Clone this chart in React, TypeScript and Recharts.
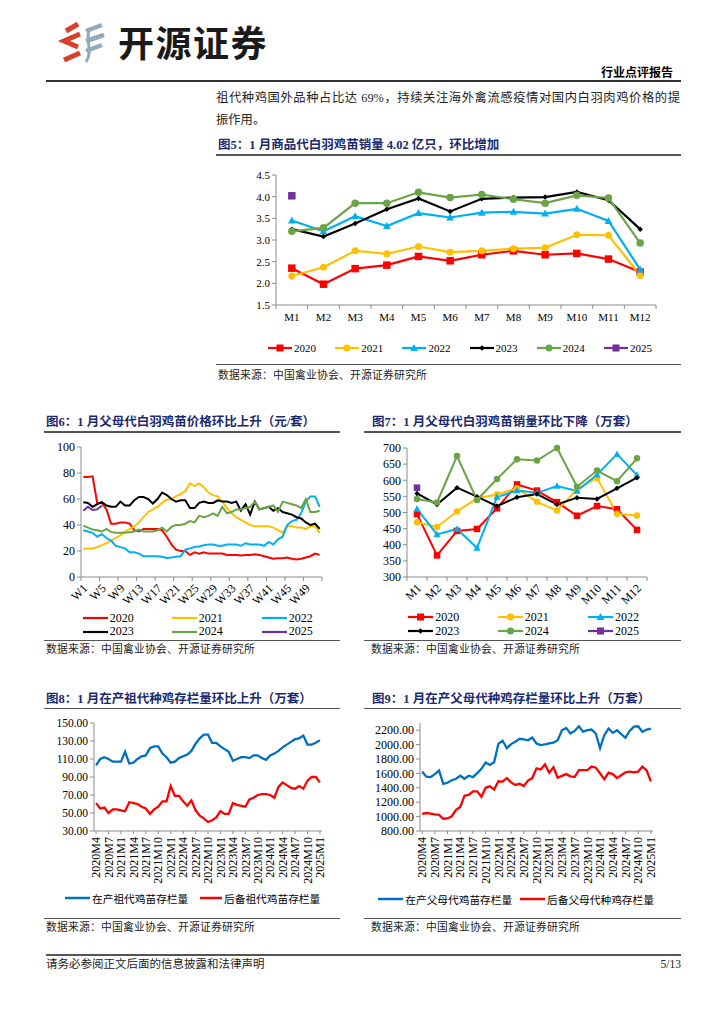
import React from "react";
import { LineChart, Line, XAxis, YAxis } from "recharts";

const SERIF = '"Liberation Serif", "Times New Roman", "Noto Sans CJK SC", serif';
const AXIS = "#8c8c8c";
const NAVY = "#1b2a6e";

// 图5 商品代白羽鸡苗销量（亿只）
const monthCats = ["M1", "M2", "M3", "M4", "M5", "M6", "M7", "M8", "M9", "M10", "M11", "M12"];
const sales2020 = [2.35, 1.98, 2.34, 2.42, 2.62, 2.52, 2.66, 2.75, 2.66, 2.69, 2.56, 2.26];
const sales2021 = [2.17, 2.37, 2.75, 2.68, 2.85, 2.72, 2.75, 2.8, 2.82, 3.12, 3.11, 2.18];
const sales2022 = [3.45, 3.2, 3.55, 3.32, 3.62, 3.52, 3.63, 3.65, 3.61, 3.72, 3.44, 2.32];
const sales2023 = [3.25, 3.08, 3.38, 3.71, 3.96, 3.66, 3.95, 3.98, 3.99, 4.11, 3.92, 3.25];
const sales2024 = [3.2, 3.28, 3.85, 3.85, 4.1, 3.98, 4.05, 3.94, 3.85, 4.03, 3.97, 2.93];
const sales2025 = [4.02];
const salesTicks = [1.5, 2.0, 2.5, 3.0, 3.5, 4.0, 4.5];

// 图6 父母代鸡苗价格（元/套）
const weekCats = [
  "W1", "W2", "W3", "W4", "W5", "W6", "W7", "W8", "W9", "W10", "W11", "W12", "W13",
  "W14", "W15", "W16", "W17", "W18", "W19", "W20", "W21", "W22", "W23", "W24", "W25", "W26",
  "W27", "W28", "W29", "W30", "W31", "W32", "W33", "W34", "W35", "W36", "W37", "W38", "W39",
  "W40", "W41", "W42", "W43", "W44", "W45", "W46", "W47", "W48", "W49", "W50", "W51", "W52",
];
const price2020 = [77, 77, 77.5, 57, 57, 52, 41, 41, 42, 42, 41, 36, 35, 37, 37, 37, 37, 36, 31, 25, 21, 20, 20, 17, 19, 18, 19, 18, 18, 18, 18, 17, 17, 17, 16.5, 17, 17, 17.5, 17, 16, 15, 14, 14.5, 14.5, 15, 14, 13.5, 14, 15, 16, 18, 17];
const price2021 = [21.5, 22, 22, 23, 24.5, 26, 28, 30, 32, 35, 37, 39, 42, 46, 50, 52, 54, 57, 59.5, 60, 62, 64, 66, 72, 70, 72, 69, 65, 63, 62, 58, 53, 49, 46, 44, 42, 40, 39, 39, 39, 39, 38, 36, 34, 39, 39, 38, 38, 37, 39, 39, 34];
const price2022 = [36, 35, 34, 31, 33, 30, 28, 24, 23, 22, 19, 19, 18, 16, 16, 16, 16, 15.5, 14.6, 15, 15.5, 16, 21, 22, 23, 23.5, 24.5, 25, 25, 24, 24, 25, 25, 25, 24, 26, 25, 25, 25, 24, 27, 25, 29, 31, 40, 43, 44, 49, 58, 62, 62, 54];
const price2023 = [57.5, 57, 54, 56, 57.5, 55, 54, 54, 58, 55, 55, 59, 61.5, 61.5, 60, 56.5, 60, 65, 63, 60, 58, 59, 59, 53, 53, 57, 58, 57, 57, 59, 58, 58, 57, 58, 51, 56, 48, 58, 52, 53, 54, 51, 53, 50, 49, 48, 46, 45, 42, 40, 41, 37];
const price2024 = [39.5, 38, 36.5, 36, 35, 37, 34.5, 34, 34, 34, 34.5, 35, 36.5, 35, 35, 35, 36, 38, 35, 38.5, 40, 40, 41, 43, 42, 47, 46, 47, 49, 47, 54, 49, 50, 52, 52, 53, 54, 58, 52, 53, 54, 55, 50, 58, 57, 56, 55, 53, 60, 50, 50, 51];
const price2025 = [51, 54, 51.5, 52, 55];
const priceTicks = [0, 20, 40, 60, 80, 100];

// 图7 父母代鸡苗销量（万套）
const vol2020 = [495, 367, 443, 449, 513, 587, 568, 532, 490, 520, 510, 446];
const vol2021 = [470, 455, 503, 544, 556, 575, 533, 506, 572, 607, 496, 491];
const vol2022 = [511, 432, 449, 390, 548, 568, 561, 582, 567, 617, 681, 616];
const vol2023 = [559, 525, 577, 549, 520, 547, 557, 525, 546, 542, 575, 608];
const vol2024 = [542, 531, 675, 539, 604, 665, 661, 700, 580, 630, 597, 668];
const vol2025 = [577];
const volTicks = [300, 350, 400, 450, 500, 550, 600, 650, 700];

// 图8 / 图9 存栏量（万套）
const stockMonths = [
  "2020M4", "2020M5", "2020M6", "2020M7", "2020M8", "2020M9",
  "2021M1", "2021M2", "2021M3", "2021M4", "2021M5", "2021M6", "2021M7", "2021M8", "2021M9", "2021M10", "2021M11", "2021M12",
  "2022M1", "2022M2", "2022M3", "2022M4", "2022M5", "2022M6", "2022M7", "2022M8", "2022M9", "2022M10", "2022M11", "2022M12",
  "2023M1", "2023M2", "2023M3", "2023M4", "2023M5", "2023M6", "2023M7", "2023M8", "2023M9", "2023M10", "2023M11", "2023M12",
  "2024M1", "2024M2", "2024M3", "2024M4", "2024M5", "2024M6", "2024M7", "2024M8", "2024M9", "2024M10", "2024M11", "2024M12",
  "2025M1",
];
const gpLaying = [103, 110, 112, 110, 107, 107, 107, 118, 105, 106, 110, 113, 114, 122, 124, 124, 116, 112, 106, 107, 111, 113, 115, 119, 127, 133, 137, 137, 128, 128, 124, 121, 118, 108, 110, 112, 112, 111, 114, 114, 111, 109, 114, 116, 119, 123, 126, 129, 132, 133, 136, 126, 126, 128, 131];
const gpReserve = [61, 55, 56, 50, 54, 54, 53, 52, 62, 61, 60, 57, 55, 49, 54, 57, 63, 63, 80, 69, 69, 63, 58, 64, 53, 47, 44, 40, 42, 45, 52, 49, 49, 61, 59, 58, 57, 65, 67, 70, 71, 71, 70, 67, 79, 84, 81, 78, 77, 80, 77, 86, 90, 90, 84];
const gpTicks = [30, 50, 70, 90, 110, 130, 150];
const ppLaying = [1626, 1555, 1548, 1590, 1640, 1456, 1470, 1505, 1525, 1567, 1525, 1567, 1548, 1603, 1663, 1750, 1718, 1755, 2010, 2053, 1950, 2007, 2039, 2081, 2071, 2060, 2099, 2016, 1993, 2003, 2016, 2026, 2062, 2200, 2232, 2154, 2190, 2255, 2180, 2200, 2209, 2154, 1950, 2131, 2223, 2163, 2200, 2145, 2094, 2190, 2250, 2255, 2177, 2209, 2223];
const ppReserve = [1039, 1050, 1040, 1030, 1025, 970, 975, 1005, 1095, 1135, 1290, 1300, 1350, 1350, 1275, 1400, 1420, 1375, 1490, 1485, 1535, 1475, 1440, 1455, 1425, 1500, 1535, 1670, 1655, 1725, 1610, 1685, 1540, 1565, 1590, 1560, 1550, 1645, 1645, 1645, 1695, 1680, 1600, 1520, 1610, 1590, 1535, 1575, 1615, 1625, 1615, 1625, 1695, 1640, 1490];
const ppTicks = [800, 1000, 1200, 1400, 1600, 1800, 2000, 2200];

const yearStyles = [
  { key: "y2020", name: "2020", color: "#ff0000", shape: "square" },
  { key: "y2021", name: "2021", color: "#ffc000", shape: "circle" },
  { key: "y2022", name: "2022", color: "#00b0f0", shape: "triangle" },
  { key: "y2023", name: "2023", color: "#000000", shape: "diamond" },
  { key: "y2024", name: "2024", color: "#6aa446", shape: "circle" },
  { key: "y2025", name: "2025", color: "#7030a0", shape: "square" },
];

function makeRows(cats: string[], series: Record<string, number[]>) {
  return cats.map((c, i) => {
    const r: any = { c };
    for (const k in series) r[k] = series[k][i] ?? null;
    return r;
  });
}

function Marker(p: any) {
  const { cx, cy, shape, color, size, value } = p;
  if (value == null || cx == null || cy == null) return <g />;
  const h = size / 2;
  if (shape === "square") return <rect x={cx - h} y={cy - h} width={size} height={size} fill={color} />;
  if (shape === "circle") return <circle cx={cx} cy={cy} r={h} fill={color} />;
  if (shape === "triangle")
    return <polygon points={`${cx},${cy - h * 1.15} ${cx + h * 1.1},${cy + h * 0.85} ${cx - h * 1.1},${cy + h * 0.85}`} fill={color} />;
  return <polygon points={`${cx},${cy - h} ${cx + h},${cy} ${cx},${cy + h} ${cx - h},${cy}`} fill={color} />;
}

// category tick: boundary tick marks, label flat / diagonal / vertical
function CatTick(p: any) {
  const { x, y, payload, bw, mode, step, cats, fs } = p;
  const idx = cats.indexOf(payload.value);
  const marks: any[] = [];
  if (mode !== "vert") {
    marks.push(<line key="a" x1={x - bw / 2} x2={x - bw / 2} y1={y} y2={y + 4} stroke={AXIS} />);
    if (idx + step >= cats.length) {
      const xe = x - bw / 2 + (cats.length - idx) * bw;
      marks.push(<line key="b" x1={xe} x2={xe} y1={y} y2={y + 4} stroke={AXIS} />);
    }
  }
  let label;
  if (mode === "flat") {
    label = (
      <text x={x} y={y + 16} textAnchor="middle" fontSize={fs} fontFamily={SERIF} fill="#000">
        {payload.value}
      </text>
    );
  } else if (mode === "diag") {
    label = (
      <text transform={`translate(${x + 2},${y + 9}) rotate(-45)`} textAnchor="end" dy="0.35em" fontSize={fs} fontFamily={SERIF} fill="#000">
        {payload.value}
      </text>
    );
  } else {
    label = (
      <text transform={`translate(${x},${y + 2}) rotate(-90)`} textAnchor="end" dy="0.35em" fontSize={fs} fontFamily={SERIF} fill="#000">
        {payload.value}
      </text>
    );
  }
  return (
    <g>
      {marks}
      {label}
    </g>
  );
}

function Txt({ x, y, size, children, style }: any) {
  return (
    <div
      style={{
        position: "absolute",
        left: x,
        top: y - size / 2,
        fontSize: size,
        lineHeight: `${size}px`,
        whiteSpace: "nowrap",
        fontFamily: SERIF,
        ...style,
      }}
    >
      {children}
    </div>
  );
}

function Rule({ x1, x2, y, w = 1, color = "#555" }: any) {
  return <div style={{ position: "absolute", left: x1, top: y - w / 2, width: x2 - x1, height: w, background: color }} />;
}

function LegendItem({ x, y, color, shape, label, lineW = 25, size = 7, fs = 11, stroke = 2.2 }: any) {
  return (
    <div style={{ position: "absolute", left: x, top: y - 7, height: 14, display: "flex", alignItems: "center", whiteSpace: "nowrap" }}>
      <svg width={lineW} height={14} style={{ display: "block" }}>
        <line x1={0} x2={lineW} y1={7} y2={7} stroke={color} strokeWidth={stroke} />
        {shape ? <Marker cx={lineW / 2} cy={7} value={1} shape={shape} color={color} size={size} /> : null}
      </svg>
      <span style={{ fontSize: fs, fontFamily: SERIF, marginLeft: 2, color: "#000" }}>{label}</span>
    </div>
  );
}

const yTick = (fs: number) => ({ fontSize: fs, fill: "#000", fontFamily: SERIF });

function Fig5() {
  const rows = makeRows(monthCats, { y2020: sales2020, y2021: sales2021, y2022: sales2022, y2023: sales2023, y2024: sales2024, y2025: sales2025 });
  const sizes: Record<string, number> = { y2020: 7.5, y2021: 7, y2022: 7, y2023: 5.5, y2024: 7.5, y2025: 7.5 };
  return (
    <div style={{ position: "absolute", left: 216, top: 165 }}>
      <LineChart width={460} height={172} data={rows} margin={{ top: 10, right: 20, bottom: 0, left: 0 }}>
        <XAxis dataKey="c" scale="band" interval={0} height={32} tickLine={false} tickSize={0} tickMargin={0} axisLine={{ stroke: AXIS }}
          tick={<CatTick bw={380 / 12} mode="flat" step={1} cats={monthCats} fs={11} />} />
        <YAxis type="number" domain={[1.5, 4.5]} ticks={salesTicks} interval={0} tickFormatter={(v: number) => v.toFixed(1)} width={60}
          axisLine={{ stroke: AXIS }} tickLine={{ stroke: AXIS }} tickSize={4} tick={yTick(11)} />
        {yearStyles.map((s) => (
          <Line key={s.key} dataKey={s.key} stroke={s.color} strokeWidth={2.2} isAnimationActive={false} activeDot={false}
            dot={(d: any) => <Marker key={`${s.key}-${d.index}`} {...d} shape={s.shape} color={s.color} size={sizes[s.key]} />} />
        ))}
      </LineChart>
    </div>
  );
}

function Fig6() {
  const rows = makeRows(weekCats, { y2020: price2020, y2021: price2021, y2022: price2022, y2023: price2023, y2024: price2024, y2025: price2025 });
  return (
    <div style={{ position: "absolute", left: 46, top: 437 }}>
      <LineChart width={282} height={170} data={rows} margin={{ top: 10, right: 6, bottom: 0, left: 0 }}>
        <XAxis dataKey="c" scale="band" interval={3} height={30} tickLine={false} tickSize={0} tickMargin={0} axisLine={{ stroke: AXIS }}
          tick={<CatTick bw={241 / 52} mode="diag" step={4} cats={weekCats} fs={12} />} />
        <YAxis type="number" domain={[0, 100]} ticks={priceTicks} interval={0} width={35} axisLine={{ stroke: AXIS }} tickLine={{ stroke: AXIS }} tickSize={4} tick={yTick(12)} />
        {yearStyles.map((s) => (
          <Line key={s.key} dataKey={s.key} stroke={s.color} strokeWidth={2} dot={false} activeDot={false} isAnimationActive={false} />
        ))}
      </LineChart>
    </div>
  );
}

function Fig7() {
  const rows = makeRows(monthCats, { y2020: vol2020, y2021: vol2021, y2022: vol2022, y2023: vol2023, y2024: vol2024, y2025: vol2025 });
  const sizes: Record<string, number> = { y2020: 6.5, y2021: 6.5, y2022: 6.5, y2023: 5.5, y2024: 6.5, y2025: 6.5 };
  return (
    <div style={{ position: "absolute", left: 365, top: 438 }}>
      <LineChart width={290} height={169} data={rows} margin={{ top: 10, right: 8, bottom: 0, left: 0 }}>
        <XAxis dataKey="c" scale="band" interval={0} height={30} tickLine={false} tickSize={0} tickMargin={0} axisLine={{ stroke: AXIS }}
          tick={<CatTick bw={240 / 12} mode="diag" step={1} cats={monthCats} fs={12} />} />
        <YAxis type="number" domain={[300, 700]} ticks={volTicks} interval={0} width={42} axisLine={{ stroke: AXIS }} tickLine={{ stroke: AXIS }} tickSize={4} tick={yTick(12)} />
        {yearStyles.map((s) => (
          <Line key={s.key} dataKey={s.key} stroke={s.color} strokeWidth={2} isAnimationActive={false} activeDot={false}
            dot={(d: any) => <Marker key={`${s.key}-${d.index}`} {...d} shape={s.shape} color={s.color} size={sizes[s.key]} />} />
        ))}
      </LineChart>
    </div>
  );
}

function StockChart({ left, width, yw, rows, domain, ticks, fs }: any) {
  return (
    <div style={{ position: "absolute", left, top: 713 }}>
      <LineChart width={width} height={173} data={rows} margin={{ top: 10, right: 7, bottom: 0, left: 0 }}>
        <XAxis dataKey="c" scale="band" interval={2} height={55} tickSize={3} tickMargin={1} tickLine={{ stroke: AXIS }} axisLine={{ stroke: AXIS }}
          tick={<CatTick bw={4.2} mode="vert" step={3} cats={stockMonths} fs={12} />} />
        <YAxis type="number" domain={domain} ticks={ticks} interval={0} tickFormatter={(v: number) => v.toFixed(2)} width={yw}
          axisLine={{ stroke: AXIS }} tickLine={{ stroke: AXIS }} tickSize={4} tick={yTick(fs)} />
        <Line dataKey="a" stroke="#0070c0" strokeWidth={2.3} dot={false} activeDot={false} isAnimationActive={false} />
        <Line dataKey="b" stroke="#ff0000" strokeWidth={2.3} dot={false} activeDot={false} isAnimationActive={false} />
      </LineChart>
    </div>
  );
}

function Logo() {
  return (
    <svg width={56} height={46} style={{ position: "absolute", left: 56, top: 20 }}>
      <g fill="none" strokeLinecap="butt">
        <path d="M22 4 L10 11" stroke="#d9402b" strokeWidth={5} />
        <path d="M24 14 L8 21 L22 27" stroke="#d9402b" strokeWidth={5} />
        <path d="M24 33 L8 40" stroke="#d9402b" strokeWidth={5} />
        <path d="M46 5 L30 11" stroke="#93abbd" strokeWidth={4.5} />
        <path d="M48 15 L30 21" stroke="#93abbd" strokeWidth={4.5} />
        <path d="M46 25 L30 31" stroke="#93abbd" strokeWidth={4.5} />
        <path d="M34 8 C28 20 38 30 30 42" stroke="#93abbd" strokeWidth={3} />
      </g>
    </svg>
  );
}

const SRC = "数据来源：中国禽业协会、开源证券研究所";

export default function App() {
  const titleStyle = { fontWeight: 700, color: NAVY };
  const srcStyle = { color: "#222", letterSpacing: 0.2 };
  return (
    <div style={{ position: "relative", width: 724, height: 1024, background: "#fff", overflow: "hidden", color: "#000" }}>
      <style>{"body{margin:0}"}</style>
      <Logo />
      <Txt x={118} y={45} size={36} style={{ fontWeight: 700, letterSpacing: 1.5, color: "#1a1a1a" }}>开源证券</Txt>
      <Txt x={600} y={73} size={12} style={{ fontWeight: 700, width: 73, textAlign: "right" }}>行业点评报告</Txt>
      <Rule x1={46} x2={681} y={80.5} w={2} color="#333" />

      <div style={{ position: "absolute", left: 216, top: 91, width: 464, fontSize: 12.3, lineHeight: "14px", fontFamily: SERIF, textAlign: "justify", textAlignLast: "justify", color: "#222", whiteSpace: "nowrap" }}>
        祖代种鸡国外品种占比达 69%，持续关注海外禽流感疫情对国内白羽肉鸡价格的提
      </div>
      <Txt x={216} y={120} size={12.3} style={{ color: "#222" }}>振作用。</Txt>

      <Txt x={218} y={145} size={12.5} style={titleStyle}>图5：1 月商品代白羽鸡苗销量 4.02 亿只，环比增加</Txt>
      <Rule x1={216} x2={681} y={155} w={1.2} />
      <Fig5 />
      {yearStyles.map((s, i) => (
        <LegendItem key={s.key} x={268 + i * 67.2} y={347.7} color={s.color} shape={s.shape} label={s.name} lineW={24} size={s.shape === "diamond" ? 5.5 : 7} />
      ))}
      <Rule x1={216} x2={681} y={364} w={1} />
      <Txt x={218} y={375} size={10.8} style={srcStyle}>{SRC}</Txt>

      <Txt x={46} y={422} size={12.5} style={titleStyle}>图6：1 月父母代白羽鸡苗价格环比上升（元/套）</Txt>
      <Rule x1={44} x2={340} y={432} w={1.2} />
      <Fig6 />
      {yearStyles.map((s, i) => (
        <LegendItem key={s.key} x={[82.7, 171.7, 261.7][i % 3]} y={i < 3 ? 618.3 : 631.5} color={s.color} label={s.name} lineW={25} fs={12} />
      ))}
      <Rule x1={44} x2={340} y={640} w={1} />
      <Txt x={46} y={649} size={10.8} style={srcStyle}>{SRC}</Txt>

      <Txt x={372} y={422} size={12.5} style={titleStyle}>图7：1 月父母代白羽鸡苗销量环比下降（万套）</Txt>
      <Rule x1={364} x2={681} y={432} w={1.2} />
      <Fig7 />
      {yearStyles.map((s, i) => (
        <LegendItem key={s.key} x={[408.3, 497.7, 588][i % 3]} y={i < 3 ? 617.3 : 631} color={s.color} shape={s.shape} label={s.name} lineW={25} fs={12} size={s.shape === "diamond" ? 5.5 : 7} />
      ))}
      <Rule x1={364} x2={681} y={640} w={1} />
      <Txt x={371} y={649} size={10.8} style={srcStyle}>{SRC}</Txt>

      <Txt x={46} y={699} size={12.5} style={titleStyle}>图8：1 月在产祖代种鸡存栏量环比上升（万套）</Txt>
      <Rule x1={44} x2={340} y={708.5} w={1.2} />
      <StockChart left={46} width={283} yw={48} rows={makeRows(stockMonths, { a: gpLaying, b: gpReserve })} domain={[30, 150]} ticks={gpTicks} fs={11.5} />
      <LegendItem x={65} y={898.3} color="#0070c0" label="在产祖代鸡苗存栏量" lineW={25} fs={10.7} stroke={2.5} />
      <LegendItem x={200} y={898.3} color="#ff0000" label="后备祖代鸡苗存栏量" lineW={22} fs={10.7} stroke={2.5} />
      <Rule x1={44} x2={340} y={918} w={1} />
      <Txt x={46} y={927} size={10.8} style={srcStyle}>{SRC}</Txt>

      <Txt x={372} y={699} size={12.5} style={titleStyle}>图9：1 月在产父母代种鸡存栏量环比上升（万套）</Txt>
      <Rule x1={364} x2={681} y={708.5} w={1.2} />
      <StockChart left={365} width={295} yw={55} rows={makeRows(stockMonths, { a: ppLaying, b: ppReserve })} domain={[800, 2300]} ticks={ppTicks} fs={12} />
      <LegendItem x={378.3} y={899.3} color="#0070c0" label="在产父母代鸡苗存栏量" lineW={25} fs={10.7} stroke={2.5} />
      <LegendItem x={520} y={899.3} color="#ff0000" label="后备父母代种鸡存栏量" lineW={25} fs={10.7} stroke={2.5} />
      <Rule x1={364} x2={681} y={918} w={1} />
      <Txt x={371} y={927} size={10.8} style={srcStyle}>{SRC}</Txt>

      <Rule x1={46} x2={681} y={955} w={2} color="#555" />
      <Txt x={46} y={965} size={11.5} style={{ color: "#222" }}>请务必参阅正文后面的信息披露和法律声明</Txt>
      <Txt x={640} y={965} size={11.5} style={{ width: 41, textAlign: "right", color: "#222" }}>5/13</Txt>
    </div>
  );
}
